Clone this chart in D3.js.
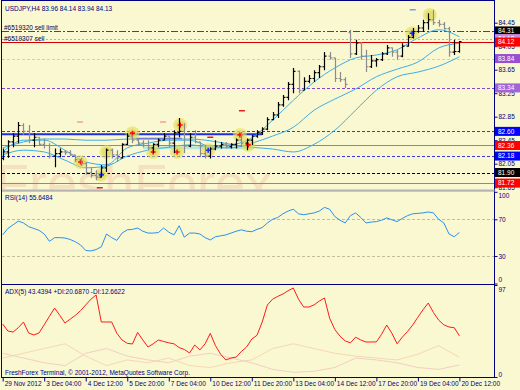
<!DOCTYPE html>
<html>
<head>
<meta charset="utf-8">
<script src="https://cdn.jsdelivr.net/npm/d3@7"></script>
<style>
body{margin:0;background:#fff;}
svg{display:block;font-family:"Liberation Sans",Arial,sans-serif;}
</style>
</head>
<body>
<div id="chart"></div>
<script>
var width = 520, height = 390;

// ---- data ----
var timeLabels = ["29 Nov 2012","3 Dec 04:00","4 Dec 12:00","5 Dec 20:00","7 Dec 04:00","10 Dec 12:00",
                  "11 Dec 20:00","13 Dec 04:00","14 Dec 12:00","17 Dec 20:00","19 Dec 04:00","20 Dec 12:00"];
var timeTicks = [0,8,16,24,32,40,48,56,64,72,80,88];

var opens  = [82.14,82.25,82.42,82.52,82.70,82.60,82.45,82.50,82.38,82.36,82.18,82.22,82.25,82.24,82.20,82.12,82.05,81.90,81.85,81.82,
              81.98,82.28,82.20,82.15,82.38,82.52,82.45,82.40,82.36,82.32,82.38,82.45,82.52,82.40,82.58,82.60,82.35,82.50,82.42,82.22,
              82.18,82.30,82.35,82.38,82.34,82.38,82.45,82.40,82.45,82.52,82.58,82.64,82.80,82.88,83.05,83.18,83.40,83.62,83.30,83.45,
              83.50,83.60,83.70,83.88,83.85,83.50,83.48,84.28,83.92,84.10,83.88,83.70,83.80,83.82,83.92,84.02,83.95,83.88,84.05,84.20,
              84.30,84.36,84.45,84.50,84.45,84.42,84.35,83.95,83.96];
var highs  = [82.31,82.45,82.57,82.76,82.74,82.71,82.57,82.50,82.48,82.40,82.31,82.31,82.28,82.28,82.20,82.15,82.08,81.99,81.94,82.03,
              82.31,82.31,82.28,82.40,82.57,82.54,82.48,82.45,82.45,82.40,82.48,82.57,82.52,82.62,82.83,82.74,82.57,82.62,82.42,82.37,
              82.33,82.45,82.42,82.42,82.40,82.48,82.59,82.48,82.54,82.62,82.67,82.84,82.93,83.10,83.22,83.44,83.68,83.64,83.52,83.56,
              83.64,83.73,83.95,83.95,83.85,83.61,83.52,84.33,84.16,84.12,83.99,83.90,83.85,83.95,84.07,84.03,83.99,84.10,84.24,84.36,
              84.41,84.50,84.61,84.67,84.50,84.46,84.38,84.16,84.14];
var lows   = [82.11,82.15,82.33,82.40,82.54,82.40,82.33,82.35,82.31,82.14,81.99,82.16,82.20,82.18,82.08,82.01,81.86,81.81,81.77,81.82,
              81.91,82.14,82.08,82.14,82.37,82.40,82.37,82.33,82.28,82.23,82.33,82.45,82.33,82.23,82.50,82.23,82.33,82.40,82.16,82.14,
              82.14,82.28,82.31,82.31,82.31,82.31,82.33,82.28,82.37,82.49,82.54,82.62,82.79,82.83,83.02,83.13,83.25,83.25,83.30,83.42,
              83.44,83.51,83.64,83.82,83.44,83.44,83.34,83.85,83.90,83.82,83.61,83.68,83.70,83.80,83.90,83.87,83.82,83.86,84.04,84.18,
              84.28,84.29,84.33,84.41,84.38,84.33,83.87,83.90,83.94];
var closes = [82.25,82.42,82.52,82.70,82.60,82.45,82.50,82.38,82.36,82.18,82.22,82.25,82.24,82.20,82.12,82.05,81.90,81.85,81.82,81.98,
              82.28,82.20,82.15,82.38,82.52,82.45,82.40,82.36,82.32,82.38,82.45,82.52,82.40,82.58,82.60,82.35,82.50,82.42,82.22,82.18,
              82.30,82.35,82.38,82.34,82.38,82.45,82.40,82.45,82.52,82.58,82.64,82.80,82.88,83.05,83.18,83.40,83.62,83.30,83.45,83.50,
              83.60,83.70,83.88,83.85,83.50,83.48,83.40,83.92,84.10,83.88,83.70,83.80,83.82,83.92,84.02,83.95,83.88,84.05,84.20,84.30,
              84.36,84.45,84.50,84.45,84.42,84.35,83.95,83.96,84.13];

// moving averages, read every 4th bar
var maBars  = [0,4,8,12,16,20,24,28,32,36,40,44,48,52,56,60,64,68,72,76,80,84,88];
var maFast  = [82.25,82.45,82.45,82.28,82.08,82.03,82.32,82.40,82.45,82.45,82.35,82.37,82.49,82.79,83.13,83.44,83.68,83.85,83.90,83.99,84.19,84.33,84.21];
var maMid   = [82.20,82.28,82.25,82.11,81.98,82.01,82.18,82.28,82.33,82.37,82.33,82.32,82.40,82.52,82.67,82.96,83.15,83.32,83.53,83.66,83.78,84.02,84.10];
var maSlow  = [82.32,82.42,82.47,82.47,82.45,82.45,82.47,82.47,82.47,82.47,82.44,82.38,82.33,82.30,82.25,82.38,82.62,82.96,83.30,83.53,83.61,83.71,83.87];

var priceTicks  = [84.45,84.05,83.65,83.25,82.85,82.45,82.05,81.65];
var levelPrices = [84.31,84.18,84.12,83.84,83.34,82.60,82.36,82.18,81.90,81.72];

var markerBars   = [15,19,20,25,29,33.6,34.2,39.6,45.7,47.3,78.9,82.3];
var markerPrices = [82.08,81.86,82.25,82.57,82.25,82.25,82.71,82.28,82.54,82.37,84.27,84.58];
var markerKinds  = ["sell","buy","none","sell","sell","sell","sell","buy","sell","sell","buy","none"];

var dashBars   = [14.9,30.9,18.7,46.1,40,79];
var dashPrices = [82.76,82.76,81.64,82.95,82.50,84.67];

var rsi = [53,60,64,68,66,62,60,58,54,46,50,50,49.6,48,45.5,42,36,35.5,37,40,
           54,50,47,55,58.5,59,60.5,57,55,55,55.5,60.5,56,53,63,50.5,55,55,54,50,
           47.5,51,52,53,55,57,58.5,57,56.5,59,61,66,70,72,76,79,81,76,75,76,
           77,79,83,81,73,69,66,74,77,72,66,67,67.5,69,71.5,69.5,67.5,71,74,76,
           76.5,77,78,77,70,66,54,51,55.65];
var rsiTicks = [100,70,30,0];

var adx = [55.9,48.5,47.4,52,58,46.4,44.3,46.4,55,64,72.7,65,56.9,61,65,70,76,82,86.5,58,
           58,58,46,39,35.5,34.8,47,39,31.6,35,39,37.5,36,35,31,29,25.3,33.7,28.5,35,
           46,33,24,18,20,21,27,31.6,40,44,58,75.9,82,85,87.5,91,93.8,82,73.8,73.8,
           76,80,83.3,62,50,43,38,36,42,39,36.9,36.9,37,45,54.8,46,35,42,48,54.8,
           63,71,78,68,60,55,52.7,52,43.44];
var plusDI  = [20,25,30,35,22,12,18,15,20,12,10,15,18,30,35,30,25,22,20,18,24,33,20.69];
var minusDI = [25,20,15,12,25,30,22,18,15,22,25,20,15,8,5,6,10,20,18,15,10,8,12.66];
var adxTicks = [97,0];

// ---- styles ----
var bg = "#faf8d0", navy = "#000080", maColor = "#3aaeea";
var levelStyle = [
  {c:"#008000", d:"7,2,2,2", tag:"#000000"},
  {c:"#e090e8", d:"2,2",     tag:"#c98ae0"},
  {c:"#d40000", d:null,      tag:"#ff0000"},
  {c:"#ebb8ea", d:"3,2",     tag:"#9a4fd0"},
  {c:"#8844cc", d:"3,2",     tag:"#a364da"},
  {c:"#3a3ae0", d:"3,2",     tag:"#0000ff"},
  {c:"#ff5a5a", d:null,      tag:"#ff0000"},
  {c:"#3a3ae0", d:"3,2",     tag:"#0000ff"},
  {c:"#000000", d:"3,2",     tag:"#000000"},
  {c:"#ff5a5a", d:null,      tag:"#ff0000"}
];

var x  = d3.scaleLinear().domain([0, 88]).range([2.7, 459.4]);
var yP = d3.scaleLinear().domain([81.65, 84.45]).range([187.2, 22.7]);
var yR = d3.scaleLinear().domain([0, 100]).range([283.5, 191.8]);
var yA = d3.scaleLinear().domain([0, 97]).range([377, 285]);
var axisX = 494.5;

var svg = d3.select("#chart").append("svg")
    .attr("width", width).attr("height", height);

svg.append("rect").attr("width", width).attr("height", height).attr("fill", bg);

var defs = svg.append("defs");
defs.append("clipPath").attr("id", "cMain").append("rect")
    .attr("x", 2).attr("y", 0).attr("width", 492).attr("height", 189.5);
defs.append("clipPath").attr("id", "cRsi").append("rect")
    .attr("x", 2).attr("y", 192).attr("width", 492).attr("height", 92);
defs.append("clipPath").attr("id", "cAdx").append("rect")
    .attr("x", 2).attr("y", 285).attr("width", 492).attr("height", 92);

// ---- main panel ----
var main = svg.append("g").attr("clip-path", "url(#cMain)");

// faint terminal watermark, cut by the panel bottom
main.append("text").attr("x", -4).attr("y", 202)
    .style("font-size", "54px")
    .attr("fill", "#f0c6aa").attr("opacity", 0.45)
    .text("FreshForex");

// order / level lines
main.selectAll("line.level").data(levelPrices).enter().append("line")
    .attr("class", "level")
    .attr("x1", 2).attr("x2", axisX)
    .attr("y1", function(d){ return Math.round(yP(d)) + 0.5; })
    .attr("y2", function(d){ return Math.round(yP(d)) + 0.5; })
    .attr("stroke", function(d, i){ return levelStyle[i].c; })
    .attr("stroke-dasharray", function(d, i){ return levelStyle[i].d; })
    .attr("stroke-width", 1);

// old trend / order lines in the range
main.append("line")
    .attr("x1", x(-1)).attr("x2", x(50))
    .attr("y1", yP(82.55)).attr("y2", yP(82.55))
    .attr("stroke", "#1f2fe0").attr("stroke-width", 2);
main.append("line")
    .attr("x1", x(24.5)).attr("x2", x(34.5))
    .attr("y1", yP(82.48)).attr("y2", yP(82.48))
    .attr("stroke", "#9a50d8").attr("stroke-width", 1.5);
main.append("line")
    .attr("x1", x(27)).attr("x2", x(48.5))
    .attr("y1", yP(82.32)).attr("y2", yP(82.32))
    .attr("stroke", "#a8e6e0").attr("stroke-width", 3).attr("opacity", 0.8);

// moving averages
var maLine = d3.line()
    .x(function(d){ return x(d[0]); })
    .y(function(d){ return yP(d[1]); })
    .curve(d3.curveMonotoneX);
[maSlow, maMid, maFast].forEach(function(ma){
    main.append("path")
        .attr("d", maLine(maBars.map(function(b, i){ return [b, ma[i]]; })))
        .attr("fill", "none").attr("stroke", maColor).attr("stroke-width", 1);
});

// trade markers
var mk = main.selectAll("g.mk").data(markerBars).enter().append("g")
    .attr("class", "mk")
    .attr("transform", function(d, i){ return "translate(" + x(d) + "," + yP(markerPrices[i]) + ")"; });
mk.append("circle").attr("r", 7).attr("fill", "#e4de5c").attr("opacity", 0.6);
mk.append("circle").attr("r", 4.5).attr("fill", "#ddd650").attr("opacity", 0.5);
mk.filter(function(d, i){ return markerKinds[i] != "none"; })
    .append("path")
    .attr("d", "M-2.5,0H2.5M0,-2.5V2.5")
    .attr("stroke", function(d){ return markerKinds[markerBars.indexOf(d)] == "buy" ? "#1a2cff" : "#ff1010"; })
    .attr("stroke-width", 1.6);

// small order dashes
main.selectAll("line.dash").data(dashBars).enter().append("line")
    .attr("x1", function(d){ return x(d) - 3; })
    .attr("x2", function(d){ return x(d) + 3; })
    .attr("y1", function(d, i){ return yP(dashPrices[i]); })
    .attr("y2", function(d, i){ return yP(dashPrices[i]); })
    .attr("stroke", function(d, i){ return i == 5 ? "#7a9ae8" : (i < 2 ? "#f0a0a0" : "#e02020"); })
    .attr("stroke-width", 1.5);

// OHLC bars
main.selectAll("path.bar").data(closes).enter().append("path")
    .attr("class", "bar")
    .attr("d", function(c, i){
        var xi = Math.round(x(i)) + 0.5;
        return "M" + xi + "," + yP(highs[i]) + "V" + yP(lows[i]) +
               "M" + (xi - 2) + "," + yP(opens[i]) + "H" + xi +
               "M" + xi + "," + yP(c) + "H" + (xi + 2);
    })
    .attr("fill", "none")
    .attr("stroke", function(c, i){ return c >= opens[i] ? "#000000" : "#8c8c8c"; })
    .attr("stroke-width", 1.2);

svg.append("text").attr("x", 5).attr("y", 11).attr("fill", navy)
    .style("font-size", "6.5px").text("USDJPY,H4  83.96 84.14 83.94 84.13");
svg.append("text").attr("x", 4).attr("y", 29.5).attr("fill", "#000050")
    .style("font-size", "6.5px").text("#6519320 sell limit");
svg.append("text").attr("x", 4).attr("y", 40.5).attr("fill", "#000050")
    .style("font-size", "6.5px").text("#6519307 sell");

// ---- RSI panel ----
var rp = svg.append("g").attr("clip-path", "url(#cRsi)");
rp.selectAll("line.lv").data([70, 30]).enter().append("line")
    .attr("x1", 2).attr("x2", axisX)
    .attr("y1", function(d){ return Math.round(yR(d)) + 0.5; })
    .attr("y2", function(d){ return Math.round(yR(d)) + 0.5; })
    .attr("stroke", "#c4bd9a").attr("stroke-dasharray", "3,2");
rp.append("path")
    .attr("d", d3.line().x(function(d, i){ return x(i); }).y(function(d){ return yR(d); })(rsi))
    .attr("fill", "none").attr("stroke", "#2a90f0").attr("stroke-width", 1);
svg.append("text").attr("x", 5).attr("y", 199.5).attr("fill", navy)
    .style("font-size", "6.5px").text("RSI(14) 55.6484");

// ---- ADX panel ----
var ap = svg.append("g").attr("clip-path", "url(#cAdx)");
var diLine = d3.line().x(function(d, i){ return x(maBars[i]); }).y(function(d){ return yA(d); });
ap.append("path").attr("d", diLine(plusDI))
    .attr("fill", "none").attr("stroke", "#f4d8b4").attr("stroke-width", 1);
ap.append("path").attr("d", diLine(minusDI))
    .attr("fill", "none").attr("stroke", "#f2cfc4").attr("stroke-width", 1);
ap.append("path")
    .attr("d", d3.line().x(function(d, i){ return x(i); }).y(function(d){ return yA(d); })(adx))
    .attr("fill", "none").attr("stroke", "#ff1a1a").attr("stroke-width", 1);
svg.append("text").attr("x", 5).attr("y", 294).attr("fill", navy)
    .style("font-size", "6.5px").text("ADX(5) 43.4394 +DI:20.6870 -DI:12.6622");
svg.append("text").attr("x", 5).attr("y", 375).attr("fill", navy)
    .style("font-size", "6.5px").text("FreshForex Terminal, \u00a9 2001-2012, MetaQuotes Software Corp.");

// ---- frames ----
svg.append("rect").attr("x", 1.5).attr("y", 0.5).attr("width", axisX - 1.5).attr("height", 377)
    .attr("fill", "none").attr("stroke", navy).attr("stroke-width", 1);
svg.append("rect").attr("x", 2).attr("y", 189.5).attr("width", axisX - 2).attr("height", 2.2)
    .attr("fill", "#b4b4b4");
svg.append("line").attr("x1", 2).attr("x2", axisX).attr("y1", 284.5).attr("y2", 284.5)
    .attr("stroke", navy);

// ---- axes ----
function styleAxis(g){
    g.select(".domain").remove();
    g.selectAll("line").attr("stroke", navy);
    g.selectAll("text").attr("fill", navy).style("font-size", "6.5px")
        .style("font-family", "'Liberation Sans',Arial,sans-serif");
}
svg.append("g").attr("transform", "translate(" + axisX + ",0)")
    .call(d3.axisRight(yP).tickValues(priceTicks).tickSize(3).tickPadding(1).tickFormat(d3.format(".2f")))
    .call(styleAxis);

var gR = svg.append("g").attr("transform", "translate(" + axisX + ",0)")
    .call(d3.axisRight(yR).tickValues(rsiTicks).tickSize(3).tickPadding(1))
    .call(styleAxis);
gR.selectAll(".tick text").attr("dy", function(d){ return d == 100 ? "0.95em" : (d == 0 ? "-0.25em" : "0.32em"); });

var gA = svg.append("g").attr("transform", "translate(" + axisX + ",0)")
    .call(d3.axisRight(yA).tickValues(adxTicks).tickSize(3).tickPadding(1))
    .call(styleAxis);
gA.selectAll(".tick text").attr("dy", function(d){ return d == 97 ? "0.95em" : "-0.1em"; });

var gT = svg.append("g").attr("transform", "translate(0,377.5)")
    .call(d3.axisBottom(x).tickValues(timeTicks).tickSize(4)
        .tickFormat(function(d, i){ return timeLabels[i]; }))
    .call(styleAxis);
gT.selectAll(".tick text").attr("text-anchor", "start").attr("x", 1.5).attr("y", 4);

// price tags on the right axis
svg.selectAll("g.tag").data(levelPrices).enter().append("g")
    .attr("class", "tag")
    .attr("transform", function(d){ return "translate(" + (axisX + 0.5) + "," + yP(d) + ")"; })
    .each(function(d, i){
        var g = d3.select(this);
        g.append("rect").attr("x", 0).attr("y", -4.5).attr("width", 25).attr("height", 9)
            .attr("fill", levelStyle[i].tag);
        g.append("text").attr("x", 3).attr("y", 2.3).attr("fill", "#ffffff")
            .style("font-size", "6.5px").text(d.toFixed(2));
    });
</script>
</body>
</html>
